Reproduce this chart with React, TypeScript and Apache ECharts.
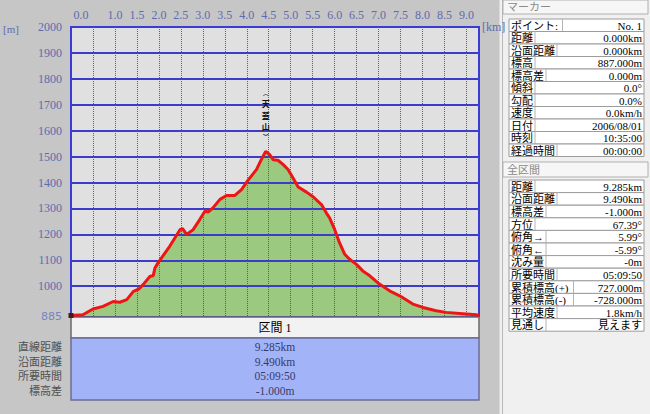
import React, { useEffect, useRef } from "react";
import * as echarts from "echarts";

// ---- data ----
const distanceKm = [
  0, 0.27, 0.5, 0.73, 0.96, 1.11, 1.27, 1.42, 1.55, 1.64, 1.8, 1.87, 1.91, 1.98,
  2.25, 2.48, 2.54, 2.63, 2.78, 2.93, 3.05, 3.12, 3.23, 3.39, 3.54, 3.73, 3.88,
  4.03, 4.22, 4.33, 4.43, 4.52, 4.6, 4.71, 4.83, 4.94, 5.05, 5.17, 5.36, 5.51,
  5.7, 5.81, 5.89, 6.0, 6.11, 6.23, 6.34, 6.49, 6.64, 6.8, 7.02, 7.25, 7.48,
  7.78, 8.01, 8.31, 8.54, 8.92, 9.22, 9.285,
];
const elevationM = [
  887, 890, 912, 922, 941, 938, 948, 980, 990, 1006, 1038, 1040, 1070, 1090,
  1155, 1218, 1222, 1200, 1218, 1257, 1290, 1286, 1302, 1335, 1350, 1350, 1373,
  1409, 1450, 1488, 1520, 1508, 1488, 1486, 1469, 1450, 1418, 1383, 1363, 1345,
  1315, 1283, 1262, 1219, 1168, 1123, 1104, 1085, 1059, 1040, 1008, 982, 963,
  931, 918, 905, 899, 894, 890, 886,
];
const xGridKm = [0.5, 1, 1.5, 2, 2.5, 3, 3.5, 4, 4.5, 5, 5.5, 6, 6.5, 7, 7.5, 8, 8.5, 9];
const yGridM = [1000, 1100, 1200, 1300, 1400, 1500, 1600, 1700, 1800, 1900];
const yLabelM = [885, 1000, 1100, 1200, 1300, 1400, 1500, 1600, 1700, 1800, 1900, 2000];
const xMinKm = 0;
const xMaxKm = 9.285;
const yMinM = 885;
const yMaxM = 2000;
const peakName = "天蓋山";
const peakKm = 4.43;
const peakM = 1520;

const markerTitle = "マーカー";
const markerLabels = ["ポイント:", "距離", "沿面距離", "標高", "標高差", "傾斜", "勾配", "速度", "日付", "時刻", "経過時間"];
const markerValues = ["No. 1", "0.000km", "0.000km", "887.000m", "0.000m", "0.0°", "0.0%", "0.0km/h", "2006/08/01", "10:35:00", "00:00:00"];
const totalTitle = "全区間";
const totalLabels = ["距離", "沿面距離", "標高差", "方位", "俯角→", "俯角←", "沈み量", "所要時間", "累積標高(+)", "累積標高(-)", "平均速度", "見通し"];
const totalValues = ["9.285km", "9.490km", "-1.000m", "67.39°", "5.99°", "-5.99°", "-0m", "05:09:50", "727.000m", "-728.000m", "1.8km/h", "見えます"];
const sectionTitle = "区間 1";
const sectionLabels = ["直線距離", "沿面距離", "所要時間", "標高差"];
const sectionValues = ["9.285km", "9.490km", "05:09:50", "-1.000m"];

// ---- styles ----
const SERIF = '"Liberation Serif", "Noto Sans CJK JP", serif';
const AXIS_C = "#5d6bb0";

function textWidth(s: string, fs: number) {
  let w = 0;
  for (const ch of s) w += ch.charCodeAt(0) > 0x2000 ? fs : fs * 0.5;
  return w;
}

function buildTable(labels: string[], values: string[], top: number, rowH: number) {
  const els: any[] = [];
  const x = 509;
  const w = 135;
  labels.forEach((lab, i) => {
    const y = top + i * rowH;
    els.push({
      type: "rect",
      shape: { x, y, width: w, height: rowH },
      style: { fill: "#ffffff", stroke: "#9c9c9c", lineWidth: 1 },
    });
    const lw = textWidth(lab, 11) + 4;
    els.push({
      type: "line",
      shape: { x1: x + lw, y1: y, x2: x + lw, y2: y + rowH },
      style: { stroke: "#b4b4b4", lineWidth: 1 },
    });
    els.push({
      type: "text",
      x: x + 2,
      y: y + rowH / 2 + 0.5,
      style: { text: lab, fill: "#000", font: `11px ${SERIF}`, textAlign: "left", textVerticalAlign: "middle" },
    });
    els.push({
      type: "text",
      x: x + w - 2,
      y: y + rowH / 2 + 0.5,
      style: { text: values[i], fill: "#000", font: `11px ${SERIF}`, textAlign: "right", textVerticalAlign: "middle" },
    });
  });
  return els;
}

function buildGraphic() {
  const els: any[] = [];
  // right panel background
  els.push({ type: "rect", shape: { x: 499, y: 0, width: 151, height: 414 }, style: { fill: "#f0f0f0" } });
  els.push({ type: "line", shape: { x1: 499.5, y1: 0, x2: 499.5, y2: 414 }, style: { stroke: "#dadada", lineWidth: 1 } });
  els.push({ type: "line", shape: { x1: 502.5, y1: 0, x2: 502.5, y2: 414 }, style: { stroke: "#b8b8b8", lineWidth: 1 } });
  // panel headers
  els.push({ type: "rect", shape: { x: 503, y: 0, width: 145, height: 14 }, style: { fill: "#f6f6f6", stroke: "#b0b0b0", lineWidth: 1 } });
  els.push({ type: "text", x: 507, y: 7, style: { text: markerTitle, fill: "#8a8a8a", font: `11px ${SERIF}`, textVerticalAlign: "middle" } });
  els.push({ type: "rect", shape: { x: 503, y: 162, width: 145, height: 15 }, style: { fill: "#f6f6f6", stroke: "#b0b0b0", lineWidth: 1 } });
  els.push({ type: "text", x: 507, y: 170, style: { text: totalTitle, fill: "#8a8a8a", font: `11px ${SERIF}`, textVerticalAlign: "middle" } });
  els.push(...buildTable(markerLabels, markerValues, 19, 12.5));
  els.push(...buildTable(totalLabels, totalValues, 180, 12.6));

  // bottom section table
  els.push({ type: "rect", shape: { x: 71, y: 317, width: 408, height: 21 }, style: { fill: "#f2f2f2", stroke: "#6a6a6a", lineWidth: 1.5 } });
  els.push({ type: "text", x: 275, y: 328, style: { text: sectionTitle, fill: "#000", font: `12px ${SERIF}`, textAlign: "center", textVerticalAlign: "middle" } });
  els.push({ type: "rect", shape: { x: 71, y: 338, width: 408, height: 62 }, style: { fill: "#a3b3f7", stroke: "#6c6c98", lineWidth: 1.5 } });
  sectionLabels.forEach((lab, i) => {
    const y = 347 + i * 14.5;
    els.push({ type: "text", x: 62, y, style: { text: lab, fill: "#505050", font: `11px ${SERIF}`, textAlign: "right", textVerticalAlign: "middle" } });
    els.push({ type: "text", x: 275, y, style: { text: sectionValues[i], fill: "#343c6c", font: `11.5px ${SERIF}`, textAlign: "center", textVerticalAlign: "middle" } });
  });
  // y axis unit
  els.push({ type: "text", x: 3, y: 29, style: { text: "[m]", fill: AXIS_C, font: `11px ${SERIF}`, textVerticalAlign: "middle" } });
  return els;
}

export default function App() {
  const ref = useRef<HTMLDivElement>(null);
  useEffect(() => {
    const chart = echarts.init(ref.current!, null, { renderer: "svg" });
    const profile = distanceKm.map((d, i) => [d, elevationM[i]]);
    const gridLines: any[] = [
      ...yGridM.map((v) => ({ yAxis: v, lineStyle: { color: "#3c3cc8", width: 2, type: "solid", opacity: 1 } })),
      ...xGridKm.map((v) => ({ xAxis: v, lineStyle: { color: "#4848b4", width: 1, type: "dotted", opacity: 0.9 } })),
    ];
    const peakText =
      "{p|︵}\n" + peakName.split("").map((c) => "{c|" + c + "}").join("\n") + "\n{p|︶}";
    const option: any = {
      animation: false,
      backgroundColor: "#c6c6c6",
      grid: {
        left: 71,
        top: 27,
        width: 408,
        height: 289,
        show: true,
        backgroundColor: "#e0e0e0",
        borderColor: "#3a3ad6",
        borderWidth: 2,
      },
      xAxis: {
        type: "value",
        position: "top",
        min: xMinKm,
        max: xMaxKm,
        interval: 0.5,
        axisLine: { show: false },
        axisTick: { show: false },
        splitLine: { show: false },
        axisLabel: {
          margin: 6,
          color: AXIS_C,
          fontFamily: SERIF,
          fontSize: 12,
          formatter: (v: number) => {
            if (Math.abs(v * 2 - Math.round(v * 2)) > 1e-6) return "";
            if (Math.abs(v - 0.5) < 1e-6) return "";
            if (Math.abs(v) < 1e-6) return "{z|0.0}";
            return v.toFixed(1);
          },
          rich: { z: { padding: [0, 0, 0, 20], color: AXIS_C, fontFamily: SERIF, fontSize: 12 } },
        },
        name: "[km]",
        nameLocation: "end",
        nameGap: 3,
        nameTextStyle: { color: AXIS_C, fontFamily: SERIF, fontSize: 12, padding: [0, 0, 24, 0] },
      },
      yAxis: {
        type: "value",
        min: yMinM,
        max: yMaxM,
        axisLine: { show: false },
        axisTick: { show: false },
        splitLine: { show: false },
        axisLabel: {
          customValues: yLabelM,
          margin: 9,
          color: AXIS_C,
          fontFamily: SERIF,
          fontSize: 12,
          formatter: (v: number) => (v === yMinM ? "{s|" + v + "}" : String(v)),
          rich: { s: { color: "#7784c4", fontFamily: '"DejaVu Sans", sans-serif', fontSize: 11 } },
        },
      },
      series: [
        {
          type: "line",
          data: profile,
          symbol: "none",
          silent: true,
          z: 1,
          lineStyle: { width: 0 },
          areaStyle: { color: "#9bc97f", opacity: 1, origin: "start" },
          markLine: {
            silent: true,
            z: 5,
            symbol: ["none", "none"],
            label: { show: false },
            lineStyle: { color: "#3c3cc8", width: 2, type: "solid", opacity: 1 },
            emphasis: { disabled: true },
            data: gridLines,
          },
        },
        {
          type: "line",
          data: profile,
          symbol: "none",
          silent: true,
          z: 10,
          lineStyle: { color: "#ee1515", width: 3 },
          markPoint: {
            silent: true,
            z: 12,
            data: [
              {
                coord: [peakKm, peakM],
                symbol: "circle",
                symbolSize: 1,
                itemStyle: { color: "rgba(0,0,0,0)" },
                label: {
                  show: true,
                  position: "top",
                  distance: 10,
                  formatter: peakText,
                  align: "center",
                  rich: {
                    p: { fontSize: 5.5, lineHeight: 8.2, color: "#111", fontFamily: '"Noto Sans CJK JP", sans-serif', fontWeight: "bold", align: "center" },
                    c: { fontSize: 8, lineHeight: 11.8, color: "#111", fontFamily: '"Noto Sans CJK JP", sans-serif', fontWeight: "bold", align: "center" },
                  },
                },
              },
              {
                coord: [distanceKm[0], elevationM[0]],
                symbol: "rect",
                symbolSize: 5,
                itemStyle: { color: "#4a1818" },
                label: { show: false },
              },
            ],
          },
        },
      ],
      graphic: { elements: buildGraphic() },
    };
    chart.setOption(option);
    return () => chart.dispose();
  }, []);
  return <div ref={ref} style={{ position: "absolute", left: 0, top: 0, width: 650, height: 414 }} />;
}
